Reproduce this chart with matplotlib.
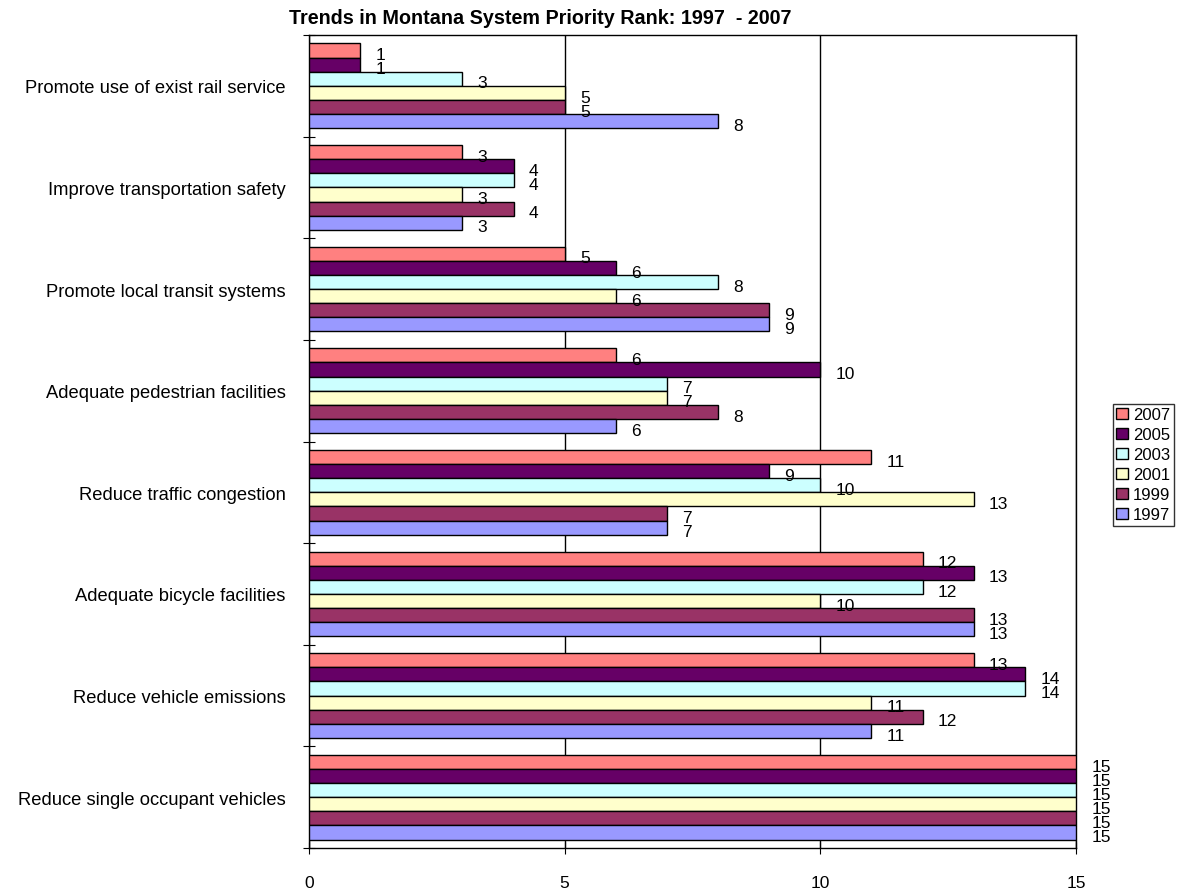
import numpy as np
import matplotlib
import matplotlib.pyplot as plt

matplotlib.use('Agg')
plt.rcParams['font.family'] = ['Liberation Sans', 'DejaVu Sans']

# Priority categories, listed top to bottom
categories = [
    'Promote use of exist rail service',
    'Improve transportation safety',
    'Promote local transit systems',
    'Adequate pedestrian facilities',
    'Reduce traffic congestion',
    'Adequate bicycle facilities',
    'Reduce vehicle emissions',
    'Reduce single occupant vehicles',
]
years = ['2007', '2005', '2003', '2001', '1999', '1997']

rank_2007 = [1, 3, 5, 6, 11, 12, 13, 15]
rank_2005 = [1, 4, 6, 10, 9, 13, 14, 15]
rank_2003 = [3, 4, 8, 7, 10, 12, 14, 15]
rank_2001 = [5, 3, 6, 7, 13, 10, 11, 15]
rank_1999 = [5, 4, 9, 8, 7, 13, 12, 15]
rank_1997 = [8, 3, 9, 6, 7, 13, 11, 15]

series = [rank_2007, rank_2005, rank_2003, rank_2001, rank_1999, rank_1997]
colors = ['#FF8080', '#660066', '#CCFFFF', '#FFFFCC', '#993366', '#9999FF']

fig = plt.figure(figsize=(11.77, 8.95), dpi=100)
ax = fig.add_axes([309 / 1177, 46 / 895, 767 / 1177, 813 / 895])

n_cat = len(categories)
bar_h = 0.139
centers = np.arange(n_cat)[::-1] + 0.5  # top category at the top

for i, (vals, col, yr) in enumerate(zip(series, colors, years)):
    y = centers + (2.5 - i) * bar_h
    bars = ax.barh(y, vals, height=bar_h, color=col, edgecolor='black',
                   linewidth=1.0, label=yr, zorder=3)
    for b, v in zip(bars, vals):
        ax.annotate(str(v), (v, b.get_y() + b.get_height() / 2),
                    xytext=(11, -3), textcoords='offset points',
                    ha='left', va='center', fontsize=12.5, zorder=4)

ax.set_xlim(0, 15)
ax.set_ylim(0, n_cat)
ax.set_xticks([0, 5, 10, 15])
ax.tick_params(axis='x', direction='inout', length=9, pad=15, labelsize=12.5)
ax.xaxis.grid(True, color='black', linewidth=1.0, zorder=0)

# group boundaries carry the tick marks, names sit between them
ax.set_yticks(np.arange(n_cat + 1))
ax.set_yticklabels([])
ax.tick_params(axis='y', which='major', direction='inout', length=9)
ax.set_yticks(centers, minor=True)
ax.set_yticklabels(categories, minor=True)
ax.tick_params(axis='y', which='minor', length=0, pad=17, labelsize=13.2)

for s in ax.spines.values():
    s.set_linewidth(1.0)

fig.text(540 / 1177, 1 - 18 / 895,
         'Trends in Montana System Priority Rank: 1997  - 2007',
         fontsize=14.2, fontweight='bold', ha='center', va='center')

fig.legend(loc='upper left', bbox_to_anchor=(1113 / 1177, 1 - 405 / 895),
           fontsize=12, frameon=True, fancybox=False, edgecolor='black',
           borderpad=0.2, labelspacing=0.3, handlelength=0.7,
           handleheight=0.7, handletextpad=0.3, borderaxespad=0)

fig.savefig('out.png', dpi=100)
